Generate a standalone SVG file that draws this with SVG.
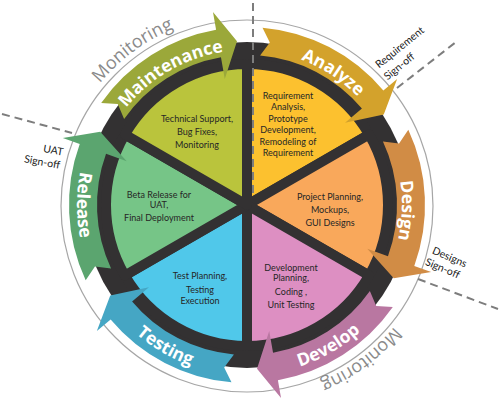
<svg xmlns="http://www.w3.org/2000/svg" xmlns:xlink="http://www.w3.org/1999/xlink" width="500" height="403" viewBox="0 0 500 403">
<style>
.sec{stroke:#333132;stroke-width:10;stroke-linejoin:round}
.lbl{font-family:"Open Sans","DejaVu Sans",sans-serif;font-weight:700;font-size:17.5px;fill:#ffffff;text-anchor:middle}
.mon{font-family:"Open Sans","DejaVu Sans",sans-serif;font-size:18px;fill:#8a8a8a;text-anchor:middle}
.desc{font-family:Lato,"Liberation Sans",sans-serif;font-size:9px;fill:#262626;text-anchor:middle}
.so{font-family:Lato,"Liberation Sans",sans-serif;font-size:10.5px;fill:#1a1a1a}
.dash{stroke:#7d7d7d;stroke-width:2;stroke-dasharray:8 5;fill:none}
</style>
<defs>
<path id="arr" d="M 262.51 27.68 A 178 178 0 0 1 383.36 90.58 L 397.14 79.01 L 383.76 114.48 L 345.05 122.72 L 361.91 108.58 A 150 150 0 0 0 260.07 55.57 L 269.82 42.60 Z"/>
<path id="lt" d="M 128.26 105.37 A 155 155 0 0 1 365.74 105.37" fill="none"/>
<path id="lb" d="M 116.77 314.27 A 170 170 0 0 0 377.23 314.27" fill="none"/>
<path id="lm" d="M 100.69 82.23 A 191 191 0 0 1 393.31 82.23" fill="none"/>
</defs>
<circle cx="247" cy="206" r="186" fill="none" stroke="#a6a6a6" stroke-width="1.2"/>
<text class="mon" transform="rotate(-36.5 247 205)"><textPath href="#lm" startOffset="50%">Monitoring</textPath></text>
<text class="mon" transform="rotate(143.5 247 205)"><textPath href="#lm" startOffset="50%">Monitoring</textPath></text>
<circle cx="247" cy="205" r="163" fill="#333132"/>

<g id="analyze">
<path class="sec" fill="#fcc12f" d="M 247 205 L 247 64 A 141 141 0 0 1 369.11 134.5 Z"/>
<use href="#arr" fill="#d3a22c"/>
<text class="lbl" transform="rotate(33 247 205)"><textPath href="#lt" startOffset="50%">Analyze</textPath></text>
<text class="desc"><tspan x="288" y="99.3">Requirement</tspan><tspan x="288" y="109.6">Analysis,</tspan><tspan x="288" y="122.3">Prototype</tspan><tspan x="288" y="132.6">Development,</tspan><tspan x="288" y="145.3">Remodeling of</tspan><tspan x="288" y="155.6">Requirement</tspan></text>
</g>

<g id="design">
<path class="sec" fill="#f9a85b" d="M 247 205 L 369.11 134.5 A 141 141 0 0 1 369.11 275.5 Z"/>
<use href="#arr" fill="#d18c45" transform="rotate(60 247 205)"/>
<text class="lbl" transform="rotate(92 247 205)"><textPath href="#lt" startOffset="50%">Design</textPath></text>
<text class="desc"><tspan x="330" y="200">Project Planning,</tspan><tspan x="330" y="212.6">Mockups,</tspan><tspan x="330" y="226">GUI Designs</tspan></text>
</g>

<g id="develop">
<path class="sec" fill="#dd8fc2" d="M 247 205 L 369.11 275.5 A 141 141 0 0 1 247 346 Z"/>
<use href="#arr" fill="#b977a1" transform="rotate(120 247 205)"/>
<text class="lbl" transform="rotate(-30 247 205)"><textPath href="#lb" startOffset="50%">Develop</textPath></text>
<text class="desc"><tspan x="291" y="271">Development</tspan><tspan x="291" y="281.4">Planning,</tspan><tspan x="291" y="295">Coding ,</tspan><tspan x="291" y="308.3">Unit Testing</tspan></text>
</g>

<g id="testing">
<path class="sec" fill="#50c8ea" d="M 247 205 L 247 346 A 141 141 0 0 1 124.89 275.5 Z"/>
<use href="#arr" fill="#45a6c4" transform="rotate(180 247 205)"/>
<text class="lbl" transform="rotate(30 247 205)"><textPath href="#lb" startOffset="50%">Testing</textPath></text>
<text class="desc"><tspan x="200" y="279.3">Test Planning,</tspan><tspan x="200" y="293">Testing</tspan><tspan x="200" y="303.5">Execution</tspan></text>
</g>

<g id="release">
<path class="sec" fill="#76c587" d="M 247 205 L 124.89 275.5 A 141 141 0 0 1 124.89 134.5 Z"/>
<use href="#arr" fill="#5ba56f" transform="rotate(240 247 205)"/>
<text class="lbl" transform="rotate(90 247 205)"><textPath href="#lb" startOffset="50%">Release</textPath></text>
<text class="desc"><tspan x="159" y="197.6">Beta Release for</tspan><tspan x="159" y="208.2">UAT,</tspan><tspan x="159" y="221">Final Deployment</tspan></text>
</g>

<g id="maintenance">
<path class="sec" fill="#bac43c" d="M 247 205 L 124.89 134.5 A 141 141 0 0 1 247 64 Z"/>
<use href="#arr" fill="#9ba83a" transform="rotate(300 247 205)"/>
<text class="lbl" transform="rotate(-30 247 205)"><textPath href="#lt" startOffset="50%">Maintenance</textPath></text>
<text class="desc"><tspan x="197" y="122.3">Technical Support,</tspan><tspan x="197" y="135.3">Bug Fixes,</tspan><tspan x="197" y="148.3">Monitoring</tspan></text>
</g>

<g id="connectors">
<line class="dash" x1="253" y1="3" x2="253" y2="198"/>
<line class="dash" x1="397" y1="88" x2="456" y2="42"/>
<line class="dash" x1="418" y1="279" x2="498" y2="309"/>
<line class="dash" x1="2" y1="114" x2="72" y2="133"/>
</g>

<g id="signoff-labels">
<text class="so" transform="translate(401 56) rotate(-39)"><tspan x="-25" y="-4">Requirement</tspan><tspan x="-26" y="10.5">Sign-off</tspan></text>
<text class="so" transform="translate(448 263) rotate(23)"><tspan x="-19" y="-2.5">Designs</tspan><tspan x="-21" y="10.5">Sign-off</tspan></text>
<text class="so" text-anchor="end" transform="translate(48 158) rotate(10)"><tspan x="14" y="-5">UAT</tspan><tspan x="13" y="8.5">Sign-off</tspan></text>
</g>
</svg>
